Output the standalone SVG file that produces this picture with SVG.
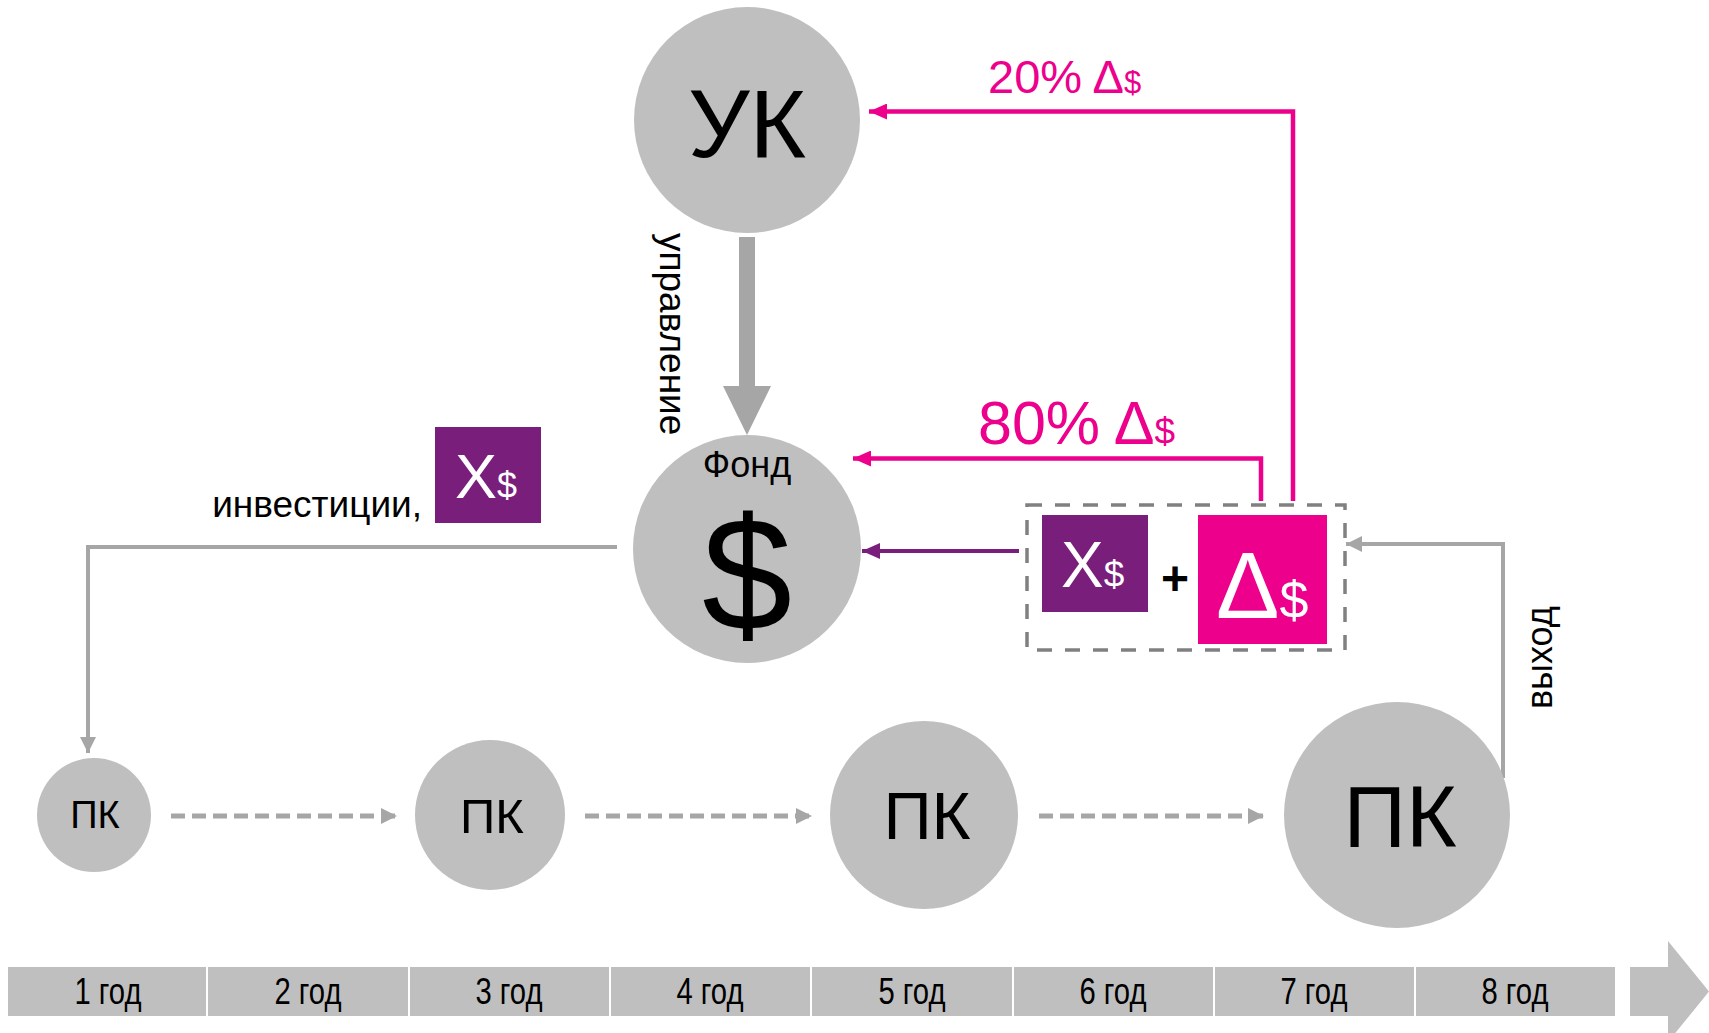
<svg xmlns="http://www.w3.org/2000/svg" width="1709" height="1033" viewBox="0 0 1709 1033">
<style>
text{font-family:"Liberation Sans",Arial,sans-serif;}
.node{fill:#bfbfbf;}
.lbl{fill:#000;text-anchor:middle;}
.pink{fill:#ec008c;}
.purple{fill:#7a1e7b;}
.wt{fill:#fff;}
.gline{fill:none;stroke:#a6a6a6;stroke-width:4;}
.gdash{fill:none;stroke:#a6a6a6;stroke-width:5;stroke-dasharray:14 7;}
.pline{fill:none;stroke:#ec008c;stroke-width:4.5;}
.vline{fill:none;stroke:#7a1e7b;stroke-width:4;}
.seg{fill:#bfbfbf;}
.yr{font-size:36px;fill:#000;text-anchor:middle;}
</style>
<defs>
<marker id="ag" markerUnits="userSpaceOnUse" markerWidth="16" markerHeight="16" refX="16" refY="8" orient="auto"><path d="M0,0 L16,8 L0,16 z" fill="#a6a6a6"/></marker>
<marker id="ap" markerUnits="userSpaceOnUse" markerWidth="18" markerHeight="16" refX="18" refY="8" orient="auto"><path d="M0,0 L18,8 L0,16 z" fill="#ec008c"/></marker>
<marker id="av" markerUnits="userSpaceOnUse" markerWidth="18" markerHeight="16" refX="18" refY="8" orient="auto"><path d="M0,0 L18,8 L0,16 z" fill="#7a1e7b"/></marker>
</defs>

<g id="connectors">
<polygon points="739,237 755,237 755,386 771,386 747,435 723,386 739,386" fill="#a6a6a6"/>
<path class="gline" d="M617,547 H88 V753" marker-end="url(#ag)"/>
<path class="gline" d="M1503,778 V544 H1346" marker-end="url(#ag)"/>
<path class="pline" d="M1293,501 V111.5 H869" marker-end="url(#ap)"/>
<path class="pline" d="M1261,501 V458.5 H853" marker-end="url(#ap)"/>
<path class="vline" d="M1019,551 H862" marker-end="url(#av)"/>
<path class="gdash" d="M171,816 H397" marker-end="url(#ag)"/>
<path class="gdash" d="M585,816 H812" marker-end="url(#ag)"/>
<path class="gdash" d="M1039,816 H1264" marker-end="url(#ag)"/>
</g>

<g id="label-upravlenie">
<text transform="translate(660,233) rotate(90)" font-size="37" fill="#000">управление</text>
</g>
<g id="label-vyhod">
<text transform="translate(1552,709) rotate(-90)" font-size="36" fill="#000">выход</text>
</g>
<g id="label-20">
<text x="988" y="93" font-size="47" class="pink">20% Δ<tspan font-size="31">$</tspan></text>
</g>
<g id="label-80">
<text x="978" y="444" font-size="61" class="pink">80% Δ<tspan font-size="37">$</tspan></text>
</g>

<g id="node-uk">
<circle class="node" cx="747" cy="120" r="113"/>
<text class="lbl" x="747" y="157" font-size="97">УК</text>
</g>

<g id="node-fond">
<circle class="node" cx="747" cy="549" r="114"/>
<text class="lbl" x="747" y="477" font-size="36">Фонд</text>
<text class="lbl" x="747" y="630" font-size="162">$</text>
</g>

<g id="label-invest">
<text x="422" y="517" font-size="37" fill="#000" text-anchor="end">инвестиции,</text>
<rect class="purple" x="435" y="427" width="106" height="96"/>
<text class="wt" x="455" y="498" font-size="63">X<tspan font-size="36">$</tspan></text>
</g>

<g id="node-sum">
<rect x="1027" y="505" width="318" height="145" fill="none" stroke="#808080" stroke-width="3.5" stroke-dasharray="15 13"/>
<rect class="purple" x="1042" y="515" width="106" height="97"/>
<text class="wt" x="1061" y="587" font-size="64">X<tspan font-size="37">$</tspan></text>
<text x="1175" y="595" font-size="48" font-weight="bold" fill="#000" text-anchor="middle">+</text>
<rect class="pink" x="1198" y="515" width="129" height="129"/>
<text class="wt" x="1216" y="618" font-size="95">Δ<tspan font-size="52">$</tspan></text>
</g>

<g id="node-pk1">
<circle class="node" cx="94" cy="815" r="57"/>
<text class="lbl" x="95" y="828" font-size="38">ПК</text>
</g>
<g id="node-pk2">
<circle class="node" cx="490" cy="815" r="75"/>
<text class="lbl" x="492" y="833" font-size="49">ПК</text>
</g>
<g id="node-pk3">
<circle class="node" cx="924" cy="815" r="94"/>
<text class="lbl" x="927" y="839" font-size="67">ПК</text>
</g>
<g id="node-pk4">
<circle class="node" cx="1397" cy="815" r="113"/>
<text class="lbl" x="1400" y="847" font-size="87">ПК</text>
</g>

<g id="timeline">
<rect class="seg" x="8" y="967" width="198" height="49"/>
<rect class="seg" x="208" y="967" width="200" height="49"/>
<rect class="seg" x="410" y="967" width="199" height="49"/>
<rect class="seg" x="611" y="967" width="199" height="49"/>
<rect class="seg" x="812" y="967" width="200" height="49"/>
<rect class="seg" x="1014" y="967" width="199" height="49"/>
<rect class="seg" x="1215" y="967" width="199" height="49"/>
<rect class="seg" x="1416" y="967" width="199" height="49"/>
<polygon class="seg" points="1630,967 1668,967 1668,941 1709,991.5 1668,1042 1668,1016 1630,1016"/>
<text class="yr" x="108" y="1004" textLength="67" lengthAdjust="spacingAndGlyphs">1 год</text>
<text class="yr" x="308" y="1004" textLength="67" lengthAdjust="spacingAndGlyphs">2 год</text>
<text class="yr" x="509" y="1004" textLength="67" lengthAdjust="spacingAndGlyphs">3 год</text>
<text class="yr" x="710" y="1004" textLength="67" lengthAdjust="spacingAndGlyphs">4 год</text>
<text class="yr" x="912" y="1004" textLength="67" lengthAdjust="spacingAndGlyphs">5 год</text>
<text class="yr" x="1113" y="1004" textLength="67" lengthAdjust="spacingAndGlyphs">6 год</text>
<text class="yr" x="1314" y="1004" textLength="67" lengthAdjust="spacingAndGlyphs">7 год</text>
<text class="yr" x="1515" y="1004" textLength="67" lengthAdjust="spacingAndGlyphs">8 год</text>
</g>
</svg>
